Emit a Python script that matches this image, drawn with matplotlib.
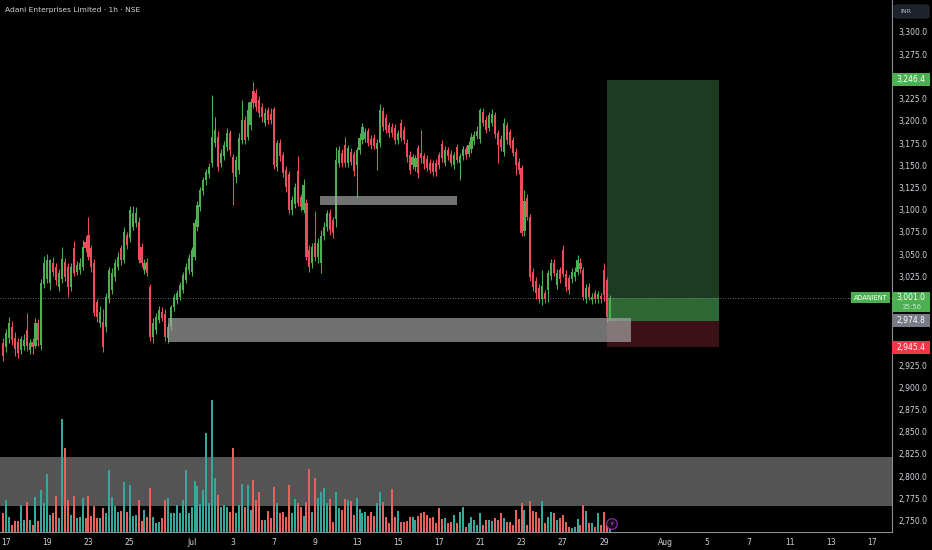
import matplotlib
matplotlib.use("Agg")
import matplotlib.pyplot as plt
from matplotlib.patches import Rectangle, FancyBboxPatch
import numpy as np

# ---------------- data ----------------
title = "Adani Enterprises Limited · 1h · NSE"
symbol = "ADANIENT"
currency = "INR"
countdown = "35:56"

open_ = [2950,2945,2955,2968,2956,2951,2942,2946,2965,2942,
         2951,2947,2972,2948,3016,3022,3018,3040,3035,3013,
         3022,3041,3036,3013,3057,3030,3032,3035,3064,3072,
         3057,3040,2996,2972,2974,2968,2999,3010,3024,3036,
         3057,3043,3071,3068,3081,3085,3086,3058,3032,3041,
         3013,2957,2965,2976,2985,2983,2956,2969,2990,2998,
         3002,3010,3021,3032,3030,3047,3080,3103,3121,3133,
         3140,3152,3175,3182,3152,3160,3170,3186,3159,3137,
         3145,3178,3201,3182,3195,3234,3231,3223,3216,3198,
         3212,3208,3213,3148,3175,3162,3145,3140,3100,3106,
         3144,3114,3100,3108,3055,3040,3062,3047,3040,3070,
         3080,3096,3088,3090,3152,3164,3173,3152,3165,3163,
         3150,3167,3178,3180,3188,3180,3181,3168,3175,3211,
         3203,3195,3193,3192,3178,3197,3190,3175,3162,3150,
         3148,3169,3164,3160,3157,3153,3152,3153,3161,3174,
         3153,3167,3163,3150,3170,3152,3160,3168,3163,3168,
         3177,3183,3179,3210,3201,3192,3198,3206,3186,3180,
         3165,3195,3187,3178,3165,3154,3147,3076,3113,3092,
         3030,3020,3012,2999,3006,3010,3025,3040,3015,3032,
         3055,3028,3023,3022,3024,3030,3040,3032,2999,3013,
         2998,3006,2999,3003,3032,3021,2978]

high = [2955,2966,2979,2975,2962,2955,2958,2960,2984,2954,
        2955,2978,2977,3022,3048,3050,3045,3047,3040,3033,
        3058,3046,3040,3040,3065,3042,3046,3066,3070,3092,
        3060,3045,3000,2992,2988,3006,3035,3034,3045,3052,
        3060,3080,3075,3104,3104,3103,3092,3063,3045,3046,
        3016,2978,2984,2992,2990,2988,2972,2993,3005,3010,
        3019,3030,3040,3050,3058,3090,3110,3126,3137,3146,
        3152,3229,3204,3188,3168,3177,3192,3190,3163,3160,
        3186,3224,3205,3221,3226,3244,3236,3228,3220,3214,
        3216,3214,3216,3178,3180,3165,3149,3143,3115,3130,
        3160,3118,3134,3112,3060,3062,3098,3068,3077,3086,
        3100,3101,3092,3171,3172,3168,3182,3173,3169,3166,
        3171,3186,3198,3192,3192,3184,3185,3180,3219,3216,
        3208,3199,3197,3196,3190,3202,3194,3179,3166,3163,
        3162,3173,3190,3164,3161,3157,3156,3157,3165,3178,
        3172,3171,3167,3165,3174,3164,3172,3172,3177,3186,
        3188,3194,3215,3214,3205,3210,3213,3210,3190,3184,
        3203,3199,3191,3182,3169,3158,3150,3122,3118,3095,
        3034,3024,3016,3032,3010,3032,3045,3044,3033,3036,
        3060,3032,3027,3034,3035,3049,3046,3036,3016,3017,
        3006,3010,3009,3006,3040,3024,3004]

low = [2930,2940,2950,2948,2935,2933,2937,2942,2941,2938,
       2938,2944,2946,2942,3012,3018,3010,3025,3015,3008,
       3018,3020,3002,3008,3025,3026,3028,3032,3052,3043,
       3030,2980,2974,2968,2940,2962,2995,3005,3020,3032,
       3038,3040,3056,3064,3077,3080,3040,3036,3028,3025,
       2952,2950,2960,2972,2975,2952,2950,2965,2986,2994,
       2998,3006,3017,3028,3025,3043,3076,3098,3117,3128,
       3136,3148,3170,3144,3148,3156,3166,3160,3105,3130,
       3140,3174,3174,3178,3190,3215,3211,3204,3199,3194,
       3196,3196,3146,3144,3155,3137,3120,3095,3094,3102,
       3104,3098,3096,3043,3030,3034,3042,3040,3029,3066,
       3076,3072,3068,3080,3148,3148,3148,3148,3150,3138,
       3114,3163,3174,3176,3172,3168,3168,3145,3170,3189,
       3186,3182,3182,3174,3174,3177,3174,3154,3140,3146,
       3144,3136,3153,3146,3143,3141,3138,3138,3146,3154,
       3149,3156,3149,3146,3152,3133,3156,3157,3159,3164,
       3173,3180,3175,3194,3186,3188,3194,3181,3152,3166,
       3160,3174,3169,3160,3139,3140,3070,3070,3088,3020,
       3009,3000,2995,2993,2995,2996,3021,3025,3011,3018,
       3024,3009,3005,3018,3020,3026,3029,2998,2995,2998,
       2994,2995,2995,2995,2997,2974,2975]

close = [2935,2961,2973,2953,2943,2939,2954,2953,2946,2950,
         2945,2973,2953,3018,3040,3043,3043,3030,3021,3029,
         3045,3024,3013,3035,3029,3038,3040,3058,3057,3047,
         3035,2984,2979,2985,2945,3002,3032,3029,3040,3047,
         3043,3075,3060,3100,3096,3096,3043,3040,3040,3029,
         2957,2972,2979,2987,2978,2957,2968,2990,3002,3006,
         3015,3026,3036,3046,3055,3085,3105,3122,3133,3142,
         3148,3182,3190,3148,3164,3173,3186,3167,3141,3156,
         3181,3201,3178,3212,3221,3220,3216,3209,3204,3209,
         3201,3201,3150,3175,3160,3141,3126,3100,3111,3126,
         3108,3103,3128,3047,3036,3058,3047,3063,3070,3081,
         3096,3077,3074,3156,3167,3153,3153,3169,3154,3143,
         3167,3181,3193,3187,3175,3173,3172,3175,3212,3193,
         3190,3186,3186,3178,3186,3181,3178,3159,3145,3159,
         3158,3141,3158,3151,3147,3145,3142,3142,3150,3158,
         3167,3160,3153,3161,3156,3160,3168,3161,3173,3182,
         3184,3189,3212,3198,3190,3206,3208,3185,3173,3170,
         3197,3178,3173,3164,3150,3145,3074,3110,3092,3024,
         3013,3006,2999,3014,2999,3029,3040,3029,3029,3022,
         3028,3013,3010,3030,3030,3043,3033,3002,3012,3002,
         3002,2999,3005,2999,3004,2979,3001]

volume = [19,32,15,7,11,11,27,12,30,12,
          7,35,11,42,29,58,17,19,36,14,
          113,84,32,17,36,14,15,34,14,36,
          16,26,14,14,24,19,62,35,26,20,
          21,50,20,47,16,17,32,11,22,15,
          44,15,9,10,14,32,34,19,19,27,
          19,32,62,19,25,51,46,28,42,99,
          29,132,54,37,25,27,25,20,84,19,
          27,48,25,47,22,52,32,40,12,12,
          21,14,45,29,19,20,15,47,19,33,
          29,25,16,30,63,20,54,34,40,44,
          29,33,10,40,24,22,33,32,31,17,
          34,23,19,20,16,20,16,29,40,30,
          15,9,43,15,21,10,10,11,15,15,
          12,16,19,20,17,14,15,9,24,13,
          14,9,10,17,9,20,25,5,9,15,
          12,7,19,7,12,12,11,14,12,19,
          14,10,10,7,22,13,29,22,7,31,
          21,20,14,31,9,15,20,19,12,14,
          17,10,5,4,5,13,7,27,21,9,
          9,5,19,7,20,7,8]

date_labels = ["17","19","23","25","Jul","3","7","9","13","15","17",
               "21","23","27","29","Aug","5","7","11","13","17"]
date_bar_index = [1,15,29,43,64,78,92,106,120,134,148,
                  162,176,190,204,225,239,253,267,281,295]

price_ticks = list(range(2750, 3301, 25))
hidden_ticks = [2950, 3000, 3250]  # covered by price tags on the scale

# long position tool
entry_price = 2974.8
target_price = 3246.4
stop_price = 2945.4
position_bars = (205, 243)

# drawn zones (bar range, price range)
demand_zone = ((56, 213), (2951.0, 2978.0))
mid_zone = ((107.5, 154), (3105.3, 3115.4))
volume_zone = (2766.5, 2821.7)

# ---------------- style ----------------
UP = "#4caf50"
DN = "#ef4b5d"
VUP = "#36a89b"
VDN = "#e8625b"
TXT = "#d1d4dc"

open_ = np.array(open_, float)
high = np.array(high, float)
low = np.array(low, float)
close = np.array(close, float)
volume = np.array(volume, float)
idx = np.arange(len(close))
up = close >= open_

fig = plt.figure(figsize=(9.32, 5.5), dpi=100, facecolor="black")
ax = fig.add_axes([0, 18 / 550, 892 / 932, 532 / 550])
ax.set_facecolor("black")

XMIN, XMAX = -1.035, 301.75
YMIN, YMAX = 2737.2, 3336.0

# volume band (behind volume)
ax.add_patch(Rectangle((XMIN, volume_zone[0]), XMAX - XMIN, volume_zone[1] - volume_zone[0],
                       fc="#a8a8a8", alpha=0.5, ec="none", zorder=1))

# volume bars
vfrac = volume / volume.max() * 0.248
ax.bar(idx, vfrac, width=0.68, bottom=0, transform=ax.get_xaxis_transform(),
       color=np.where(up, VUP, VDN), linewidth=0, zorder=2)

# position tool
ps, pe = position_bars
ax.add_patch(Rectangle((ps, entry_price), pe - ps, target_price - entry_price,
                       fc="#1c3b20", ec="none", zorder=1))
ax.add_patch(Rectangle((ps, entry_price), pe - ps, close[-1] - entry_price,
                       fc="#2e6834", ec="none", zorder=1.1))
ax.add_patch(Rectangle((ps, stop_price), pe - ps, entry_price - stop_price,
                       fc="#3a1117", ec="none", zorder=1))

# candles
cols = np.where(up, UP, DN)
ax.vlines(idx, low, high, colors=cols, lw=0.75, zorder=3)
body_bottom = np.minimum(open_, close)
body_h = np.maximum(np.abs(close - open_), 0.9)
ax.bar(idx, body_h, width=0.72, bottom=body_bottom, color=cols, linewidth=0, zorder=3)

# gray zones
for (x0, x1), (p0, p1) in (demand_zone, mid_zone):
    ax.add_patch(Rectangle((x0, p0), x1 - x0, p1 - p0, fc="#a8a8a8", alpha=0.68,
                           ec="none", zorder=3.5))

# last price dotted line
ax.axhline(close[-1], color="#8a8d96", lw=0.6, ls=(0, (1, 2)), zorder=2.8)

ax.set_xlim(XMIN, XMAX)
ax.set_ylim(YMIN, YMAX)

# axes styling
ax.yaxis.tick_right()
ax.set_yticks(price_ticks)
ax.set_yticklabels(["" if v in hidden_ticks else f"{v:,.1f}" for v in price_ticks])
ax.set_xticks(date_bar_index)
ax.set_xticklabels(date_labels)
ax.tick_params(axis="y", length=0, pad=4.5, labelsize=5.5, labelcolor=TXT)
ax.tick_params(axis="x", length=0, pad=4.0, labelsize=5.5, labelcolor=TXT)
for s in ("top", "left"):
    ax.spines[s].set_visible(False)
for s in ("right", "bottom"):
    ax.spines[s].set_color("#8a8d96")
    ax.spines[s].set_linewidth(0.8)

ytr = ax.get_yaxis_transform()
PXU = (YMAX - YMIN) / 532.0  # price units per pixel
TAGW = 38 / 892


def tag(price, text, fc, up_px=6.5, down_px=6.5, tc="white"):
    ax.add_patch(Rectangle((1.0, price - down_px * PXU), TAGW, (up_px + down_px) * PXU,
                           transform=ytr, fc=fc, ec="none", clip_on=False, zorder=5))
    ax.text(1.0 + TAGW / 2, price, text, transform=ytr, ha="center", va="center",
            fontsize=5.5, color=tc, zorder=6, clip_on=False)


tag(target_price, f"{target_price:,.1f}", "#4caf50")
tag(entry_price, f"{entry_price:,.1f}", "#787b86")
tag(stop_price, f"{stop_price:,.1f}", "#f23645")
tag(close[-1], f"{close[-1]:,.1f}", "#4caf50", up_px=6, down_px=14)
ax.text(1.0 + TAGW / 2, close[-1] - 9.5 * PXU, countdown, transform=ytr, ha="center",
        va="center", fontsize=5.0, color="#c8e6c9", zorder=6, clip_on=False)

# symbol label
ax.add_patch(Rectangle((851 / 892, close[-1] - 5.5 * PXU), 39 / 892, 11 * PXU,
                       transform=ytr, fc="#4caf50", ec="none", clip_on=False, zorder=5))
ax.text(870.5 / 892, close[-1], symbol, transform=ytr, ha="center", va="center",
        fontsize=4.8, color="white", zorder=6)

# lightning icon
ax.text(idx[-1] + 0.7, YMIN + 8 * PXU, "⚡", ha="center", va="center", fontsize=4.8,
        color="#ba68c8", zorder=6,
        bbox=dict(boxstyle="circle,pad=0.35", fc="#150a1a", ec="#9c27b0", lw=0.8))

# currency box
fig.add_artist(FancyBboxPatch((894 / 932, 1 - 18 / 550), 35 / 932, 13 / 550,
                              boxstyle="round,pad=0,rounding_size=0.003",
                              transform=fig.transFigure, fc="#1e222d", ec="#2a2e39", lw=0.6))
fig.text(906 / 932, 1 - 11.5 / 550, currency, ha="center", va="center", fontsize=4.6,
         color="#b2b5be")

# title
fig.text(5 / 932, 1 - 10 / 550, title, ha="left", va="center", fontsize=5.4, color=TXT)

fig.savefig("out.png", dpi=100, facecolor="black")
